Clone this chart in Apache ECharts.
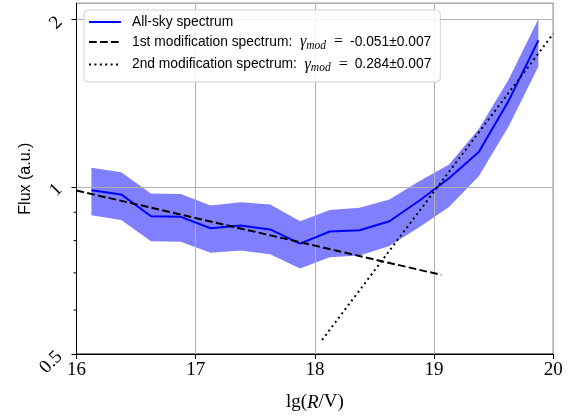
<!DOCTYPE html>
<html>
<head>
<meta charset="utf-8">
<script src="https://cdn.jsdelivr.net/npm/echarts@6/dist/echarts.min.js"></script>
<style>
  html, body { margin: 0; padding: 0; background: #fff; }
  #chart { width: 568px; height: 417px; }
</style>
</head>
<body>
<div id="chart"></div>
<script>
// Rigidity bin centres, lg(R/V)
const lgR = [16.125, 16.375, 16.625, 16.875, 17.125, 17.375, 17.625, 17.875,
             18.125, 18.375, 18.625, 18.875, 19.125, 19.375, 19.625, 19.875];
// All-sky spectrum (a.u.) and its uncertainty band
const allSky = [0.986, 0.969, 0.885, 0.883, 0.842, 0.852, 0.838, 0.790,
                0.831, 0.835, 0.867, 0.944, 1.036, 1.155, 1.428, 1.835];
const bandLow = [0.889, 0.871, 0.798, 0.796, 0.761, 0.768, 0.756, 0.713,
                 0.747, 0.752, 0.782, 0.846, 0.920, 1.045, 1.284, 1.647];
const bandHigh = [1.082, 1.062, 0.973, 0.971, 0.925, 0.938, 0.929, 0.867,
                  0.908, 0.917, 0.949, 1.023, 1.097, 1.271, 1.561, 2.005];
// Power-law fits: [lg(R/V), flux] end points
const mod1 = [[16.0, 0.985], [19.06, 0.694]];
const mod2 = [[18.06, 0.530], [20.0, 1.887]];
// Legend texts
const gamma1 = '-0.051±0.007';
const gamma2 = '0.284±0.007';
// Minor ticks on the flux axis
const minorTicks = [0.6, 0.7, 0.8, 0.9];

const SERIF = '"Liberation Serif", "DejaVu Serif", serif';
const SANS = '"Liberation Sans", "DejaVu Sans", sans-serif';

const chart = echarts.init(document.getElementById('chart'), null, { renderer: 'canvas' });

const legendText = {
  'All-sky spectrum': '{a|All-sky spectrum}',
  '1st modification spectrum': '{a|1st modification spectrum:  }{g|γ}{s|mod}{e|=}{a|' + gamma1 + '}',
  '2nd modification spectrum': '{a|2nd modification spectrum:  }{g|γ}{s|mod}{e|=}{a|' + gamma2 + '}'
};

chart.setOption({
  animation: false,
  grid: {
    left: 76.5, right: 14.7, top: 3.3, bottom: 62.5,
    show: true, borderColor: '#000', borderWidth: 1, backgroundColor: 'transparent'
  },
  legend: {
    data: ['All-sky spectrum', '1st modification spectrum', '2nd modification spectrum'],
    orient: 'vertical',
    left: 84, top: 10,
    padding: [5, 9, 8, 4],
    itemGap: 5,
    itemWidth: 32,
    itemHeight: 14,
    backgroundColor: 'rgba(255,255,255,0.85)',
    borderColor: '#d0d0d0',
    borderWidth: 1,
    borderRadius: 4,
    itemStyle: { opacity: 0 },
    formatter: name => legendText[name],
    textStyle: {
      padding: [0, 0, 0, 6],
      color: '#000',
      fontFamily: SANS,
      fontSize: 13.8,
      rich: {
        a: { fontFamily: SANS, fontSize: 13.8, color: '#000' },
        g: { fontFamily: SERIF, fontStyle: 'italic', fontSize: 16, color: '#000' },
        s: { fontFamily: SERIF, fontStyle: 'italic', fontSize: 11.5, color: '#000', padding: [7, 1, 0, 0] },
        e: { fontFamily: SERIF, fontSize: 16, color: '#000', padding: [0, 7, 0, 7] }
      }
    }
  },
  xAxis: {
    type: 'value',
    min: 16, max: 20, interval: 1,
    name: '{n|lg(}{i|R}{n|/V)}',
    nameLocation: 'middle',
    nameGap: 39,
    nameTextStyle: {
      rich: {
        n: { fontFamily: SERIF, fontSize: 19, color: '#000' },
        i: { fontFamily: SERIF, fontStyle: 'italic', fontSize: 19, color: '#000' }
      }
    },
    axisLine: { lineStyle: { color: '#000', width: 1 } },
    axisTick: { show: true, length: 5, inside: false, lineStyle: { color: '#000' } },
    axisLabel: { color: '#000', fontFamily: SERIF, fontSize: 19, margin: 7 },
    splitLine: { show: true, lineStyle: { color: '#b0b0b0', width: 1 } }
  },
  yAxis: {
    type: 'log',
    logBase: 2,
    min: 0.5, max: 2.14,
    name: 'Flux (a.u.)',
    nameLocation: 'middle',
    nameGap: 43,
    nameMoveOverlap: false,
    nameRotate: 90,
    nameTextStyle: { fontFamily: SANS, fontSize: 16, color: '#000' },
    axisLine: { show: true, lineStyle: { color: '#000', width: 1 } },
    axisTick: { show: true, length: 5, inside: false, lineStyle: { color: '#000' } },
    axisLabel: {
      color: '#000', fontFamily: SERIF, fontSize: 19, rotate: 45, margin: 17,
      showMaxLabel: false,
      formatter: v => String(+v.toFixed(3))
    },
    splitLine: { show: true, lineStyle: { color: '#b0b0b0', width: 1 } }
  },
  series: [
    {
      name: 'band',
      type: 'custom',
      z: -1,
      silent: true,
      data: lgR.map((x, i) => [x, bandLow[i], bandHigh[i]]),
      encode: { x: 0, y: [1, 2] },
      renderItem: (params, api) => {
        if (params.dataIndex !== 0) return null;
        const upper = lgR.map((x, i) => api.coord([x, bandHigh[i]]));
        const lower = lgR.map((x, i) => api.coord([x, bandLow[i]])).reverse();
        return {
          type: 'polygon',
          shape: { points: upper.concat(lower) },
          style: { fill: '#8080ff' }
        };
      }
    },
    {
      name: 'minor ticks',
      type: 'custom',
      silent: true,
      clip: false,
      data: minorTicks.map(v => [16, v]),
      renderItem: (params, api) => {
        const p = api.coord([api.value(0), api.value(1)]);
        return {
          type: 'line',
          shape: { x1: p[0] - 3, y1: p[1], x2: p[0], y2: p[1] },
          style: { stroke: '#000', lineWidth: 1 }
        };
      }
    },
    {
      name: 'All-sky spectrum',
      type: 'line',
      symbol: 'none',
      data: lgR.map((x, i) => [x, allSky[i]]),
      lineStyle: { color: '#0000ff', width: 2 },
      itemStyle: { color: '#0000ff' },
      z: 3
    },
    {
      name: '1st modification spectrum',
      type: 'line',
      symbol: 'none',
      data: mod1,
      lineStyle: { color: '#000', width: 2, type: [7.7, 3.3] },
      itemStyle: { color: '#000' },
      z: 4
    },
    {
      name: '2nd modification spectrum',
      type: 'line',
      symbol: 'none',
      data: mod2,
      lineStyle: { color: '#000', width: 2, type: [2, 3.4] },
      itemStyle: { color: '#000' },
      z: 4
    }
  ]
});
</script>
</body>
</html>
